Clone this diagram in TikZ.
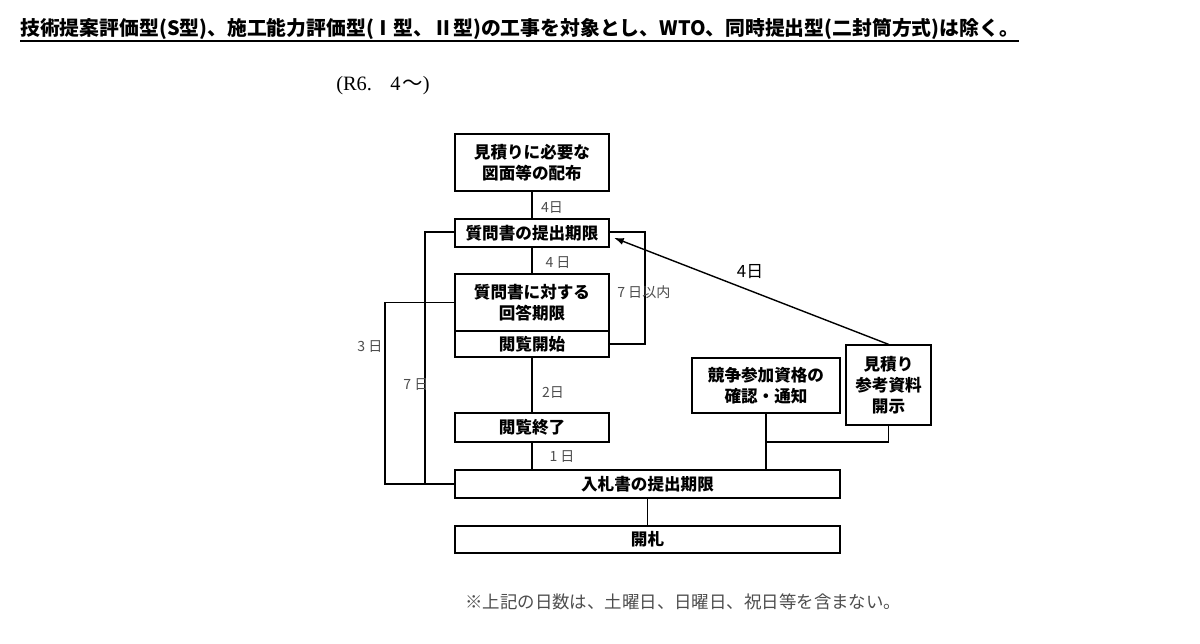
\documentclass[tikz,border=0pt]{standalone}
\usepackage{fontspec}
\setmainfont{Noto Sans CJK JP}
\newfontfamily\romanfont{Liberation Serif}
\usetikzlibrary{arrows.meta}

\definecolor{labelgray}{HTML}{4D4D4D}
\tikzset{
  stepbox/.style={draw, line width=1.3pt, fill=white, align=center,
    inner sep=0pt, minimum width=3.85cm,
    font=\fontsize{11.8pt}{15pt}\selectfont\bfseries},
  widebox/.style={stepbox, minimum width=9.625cm},
  daylabel/.style={text=labelgray, inner sep=0pt,
    font=\fontsize{10pt}{12pt}\selectfont},
  link/.style={line width=1pt},
}

\begin{document}
\begin{tikzpicture}[x=0.025cm, y=-0.025cm]
            \useasboundingbox (0,0) rectangle (1200,643);
            % heading
            \node[anchor=west, inner sep=0pt, font=\fontsize{14.1pt}{16pt}\selectfont\bfseries]
                (title) at (20,29) {技術提案評価型(S型)、施工能力評価型(Ⅰ型、Ⅱ型)の工事を対象とし、WTO、同時提出型(二封筒方式)は除く。};
            \draw[line width=1.4pt] ([yshift=-0.5pt]title.south west) -- ([yshift=-0.5pt]title.south east);
            \node[anchor=west, inner sep=0pt, font=\fontsize{14.5pt}{16pt}\selectfont]
                (period) at (336,86) {{\romanfont (R6.}\hspace{0.9em}{\romanfont 4}\hspace{0.1em}～{\romanfont )}};
            % boxes
            \node[stepbox, minimum height=1.425cm] (haifu) at (532,162.5) {見積りに必要な\\図面等の配布};
            \node[stepbox, minimum height=0.7cm] (shitsumon) at (532,233) {質問書の提出期限};
            \node[stepbox, minimum height=1.425cm] (kaito) at (532,302.5) {質問書に対する\\回答期限};
            \node[stepbox, minimum height=0.65cm] (kaishi) at (532,344) {閲覧開始};
            \node[stepbox, minimum height=0.725cm] (shuryo) at (532,427.5) {閲覧終了};
            \node[stepbox, minimum width=3.7cm, minimum height=1.375cm] (kakunin) at (766,385.5) {競争参加資格の\\確認・通知};
            \node[stepbox, line width=0.9pt, minimum width=2.125cm, minimum height=2cm] (sanko) at (888.5,385) {見積り\\参考資料\\開示};
            \node[widebox, minimum height=0.7cm] (nyusatsu) at (647.5,484) {入札書の提出期限};
            \node[widebox, minimum height=0.675cm] (kaisatsu) at (647.5,539.5) {開札};
            % connectors
            \coordinate (loopR) at (645,232);
            \coordinate (leftIn) at (425,484);
            \coordinate (leftOut) at (385,484);
            \coordinate (join) at (766,442);
            \draw[link] (haifu) -- (shitsumon);
            \draw[link] (shitsumon) -- (kaito);
            \draw[link] (kaishi) -- (shuryo);
            \draw[link] (shuryo.south) -- (shuryo.south |- nyusatsu.north);
            \draw[link, line width=1.2pt] (nyusatsu) -- (kaisatsu);
            \draw[link] (kakunin.south) -- (kakunin.south |- nyusatsu.north);
            \draw[link] (sanko.south) |- (join);
            \draw[link, line width=1.2pt] (kaishi.east) -| (loopR) -- (shitsumon.east |- loopR);
            \draw[link, line width=1.2pt] (shitsumon.west |- loopR) -| (leftIn);
            \draw[link, line width=1.2pt] (kaito.west) -| (leftOut) -- (nyusatsu.west);
            \draw[link, -{Latex[length=7pt,width=5pt]}] (sanko.north) -- ([xshift=0.1cm, yshift=-0.12cm]shitsumon.east);
            % day counts
            \node[daylabel] (d1) at (552,208) {4日};
            \node[daylabel] (d2) at (558,263) {4 日};
            \node[daylabel, anchor=west] (d3) at (617,292) {7 日以内};
            \node[daylabel] (d4) at (370,347) {3 日};
            \node[daylabel] (d5) at (416,385) {7 日};
            \node[daylabel] (d6) at (553,393) {2日};
            \node[daylabel] (d7) at (562,457) {1 日};
            \node[daylabel, text=black, font=\fontsize{12pt}{14pt}\selectfont] (d8) at (750,272) {4日};
            % note
            \node[anchor=west, text=labelgray, inner sep=0pt, font=\fontsize{12.4pt}{14pt}\selectfont]
                (note) at (465,602) {※上記の日数は、土曜日、日曜日、祝日等を含まない。};
        \end{tikzpicture}
\end{document}
